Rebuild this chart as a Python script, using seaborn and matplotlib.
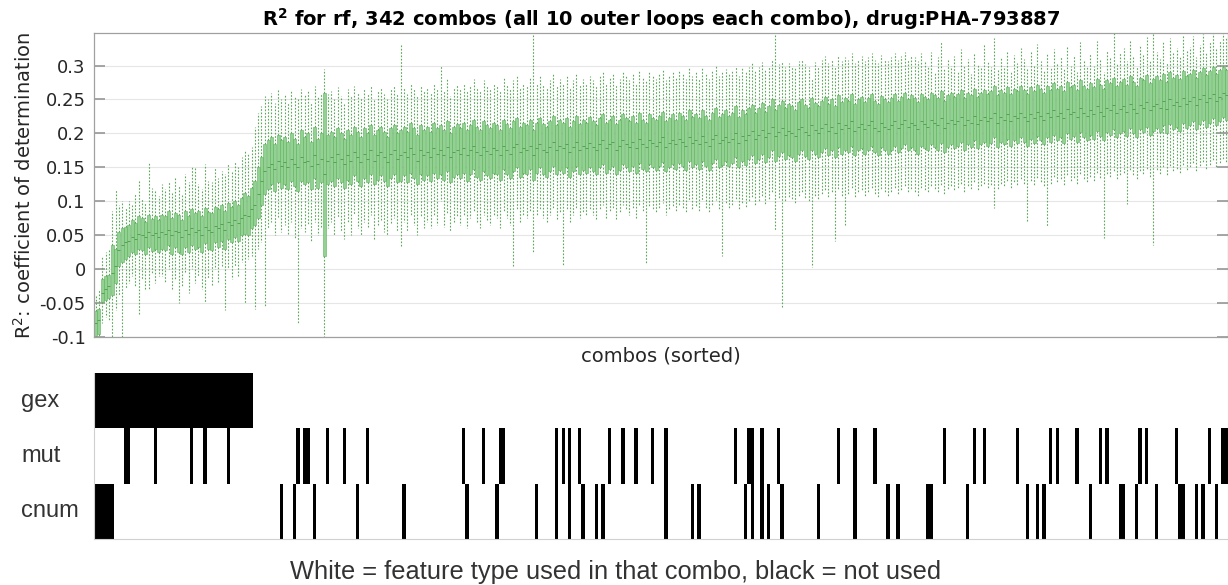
import numpy as np
import pandas as pd
import matplotlib
matplotlib.use("Agg")
import matplotlib.pyplot as plt
import seaborn as sns
from matplotlib.colors import ListedColormap

# ---------------- data (R^2 in thousandths) ----------------
med = [
-80,-75,-35,-30,-25,-5,5,28,35,40,
42,48,45,52,50,47,55,50,53,48,
55,52,58,50,56,54,48,57,52,60,
55,58,50,62,57,55,63,60,66,58,
70,65,72,68,75,80,78,88,95,110,
130,145,150,155,148,160,152,158,150,162,
155,150,165,158,160,152,168,155,162,140,
160,165,158,170,162,155,168,160,172,165,
158,170,163,175,160,168,172,165,158,170,
175,162,168,172,165,178,170,160,175,168,
172,165,178,170,175,168,180,165,172,176,
170,178,168,175,182,172,168,180,174,170,
178,175,168,182,176,170,180,185,172,178,
175,182,168,178,185,176,172,180,188,175,
182,178,185,172,180,188,176,182,178,186,
180,175,185,190,178,184,188,176,182,190,
185,180,188,178,192,184,180,190,186,182,
188,194,180,186,190,184,192,188,182,195,
186,190,184,196,188,182,192,198,186,190,
195,188,192,200,186,196,190,198,204,192,
198,205,194,200,210,196,202,208,198,204,
200,196,206,210,202,198,212,205,200,208,
214,204,210,200,216,206,212,208,218,204,
210,214,206,212,218,208,204,215,210,206,
212,218,208,214,220,210,216,212,206,218,
214,210,220,216,212,222,208,216,220,214,
218,224,212,220,216,226,214,220,224,218,
222,230,216,224,220,228,218,226,222,230,
224,218,228,222,232,226,220,230,224,234,
226,230,222,236,228,232,224,238,230,226,
234,228,240,232,226,238,234,242,230,236,
240,232,244,236,230,242,238,246,234,240,
244,238,248,236,250,242,246,240,252,244,
248,254,242,250,256,246,252,258,248,254,
260,256]

q1 = [
-98,-95,-48,-45,-42,-38,-20,5,10,15,
20,25,22,30,28,22,32,26,30,25,
30,28,35,22,32,25,22,32,25,35,
30,32,25,38,30,28,40,32,42,30,
45,40,48,42,50,52,50,60,65,75,
95,110,118,125,115,128,120,125,118,130,
122,115,130,125,128,118,135,120,128,20,
125,130,122,135,128,120,132,125,138,130,
122,135,128,140,125,132,138,130,122,135,
140,128,130,138,128,142,135,125,140,132,
138,130,142,135,140,132,145,128,136,140,
135,142,130,140,148,136,132,145,138,134,
142,140,132,148,140,134,145,150,136,142,
140,148,132,142,150,140,136,145,152,140,
146,142,150,136,145,152,140,146,142,150,
145,140,150,155,142,148,152,140,146,155,
150,145,152,142,156,148,144,155,150,146,
152,158,145,150,155,148,156,152,146,160,
150,155,148,160,152,146,156,162,150,154,
160,152,156,165,150,160,154,162,168,156,
162,170,158,165,175,160,166,172,162,168,
165,160,170,175,166,162,176,170,165,172,
178,168,175,165,180,170,176,172,182,168,
175,178,170,176,182,172,168,180,175,170,
176,182,172,178,185,175,180,176,170,182,
178,175,185,180,176,186,172,180,184,178,
182,188,176,184,180,190,178,184,188,182,
186,194,180,188,184,192,182,190,186,194,
188,182,192,186,196,190,184,194,188,198,
190,194,186,200,192,196,188,202,194,190,
198,192,204,196,190,202,198,206,194,200,
204,196,208,200,194,206,202,210,198,204,
208,202,212,200,214,206,210,204,216,208,
212,218,206,214,220,210,216,222,212,218,
224,220]

q3 = [
-62,-58,-15,-10,-8,35,30,55,60,62,
65,72,68,78,75,70,80,74,78,72,
80,78,85,75,82,80,72,85,78,88,
82,85,78,90,84,82,92,88,95,85,
98,92,100,95,105,112,108,120,130,150,
165,185,190,195,185,198,190,195,188,200,
192,185,205,195,200,188,210,192,200,260,
198,202,195,208,200,192,205,198,210,202,
195,208,200,212,198,205,210,202,195,208,
212,200,205,210,202,215,208,198,212,205,
210,202,215,208,212,205,218,200,210,214,
208,215,205,212,220,210,205,218,212,208,
215,212,205,220,214,208,218,222,210,215,
212,220,205,215,222,214,210,218,225,212,
220,215,222,210,218,225,214,220,215,224,
218,212,222,228,215,220,225,214,220,228,
222,218,225,215,230,220,216,228,222,220,
225,232,218,222,228,220,230,225,220,234,
224,228,222,235,226,220,230,238,224,228,
234,226,230,240,224,235,228,238,242,230,
238,245,232,240,250,235,242,248,238,244,
240,235,246,250,242,238,252,245,240,248,
254,244,250,240,256,246,252,248,258,244,
250,254,246,252,258,248,244,255,250,246,
252,258,248,254,260,250,256,252,246,258,
254,250,260,256,252,262,248,256,260,254,
258,264,252,260,256,266,254,260,264,258,
262,270,256,264,260,268,258,266,262,270,
264,258,268,262,272,266,260,270,264,274,
266,270,262,276,268,272,264,278,270,266,
274,268,280,272,266,278,274,282,270,276,
280,272,284,276,270,282,278,286,274,280,
284,278,288,276,290,282,286,280,292,284,
288,294,282,290,296,286,292,298,288,294,
298,294]

w_lo = [
-100,-100,-80,-70,-75,-100,-60,-40,-100,-30,
-20,-10,-25,-68,-15,-30,-30,-5,-20,-10,
-10,-20,0,-30,-15,-50,-25,-5,-35,0,
-20,-10,-30,-50,-15,-25,0,-20,5,-60,
0,-15,5,-10,10,-50,15,20,-58,30,
40,-55,60,70,50,75,55,65,50,70,
45,-80,60,55,65,40,70,50,60,-100,
60,70,50,75,55,45,68,50,80,60,
50,70,60,80,45,65,72,55,50,68,
75,55,34,70,55,80,65,50,78,60,
70,60,80,65,100,62,82,55,70,78,
65,80,60,75,85,68,60,80,72,65,
78,75,60,85,75,65,3,88,68,78,
75,85,24,78,88,75,68,80,90,72,
82,5,88,68,80,90,75,82,78,88,
80,72,88,95,75,85,90,72,82,95,
88,80,90,75,95,85,7,92,88,82,
90,98,80,88,92,85,95,90,82,100,
88,92,85,100,90,82,95,102,88,20,
98,90,95,102,88,98,92,100,105,95,
100,108,95,102,112,58,104,-56,100,106,
102,98,108,112,104,100,3,108,102,110,
115,105,112,42,118,108,64,110,120,105,
112,115,108,114,120,110,105,118,112,108,
114,120,110,116,122,112,118,114,108,120,
116,112,122,118,114,124,110,118,122,116,
120,126,114,122,118,128,116,122,126,120,
124,90,118,126,122,130,120,128,124,132,
126,70,130,124,134,128,122,62,126,136,
128,132,124,138,130,134,126,140,132,128,
136,130,142,134,46,140,136,144,132,138,
142,96,146,138,132,144,140,148,136,36,
146,140,150,138,152,144,148,142,154,146,
150,156,144,152,158,148,154,160,150,156,
162,158]

w_hi = [
-40,-30,20,25,30,85,117,95,100,90,
100,95,110,130,105,98,157,120,115,108,
125,118,130,112,135,122,110,140,128,150,
150,125,118,155,130,128,150,135,145,140,
155,145,160,150,165,175,170,180,210,230,
240,255,250,260,245,265,250,258,245,262,
255,250,265,258,262,245,270,255,260,295,
258,262,250,268,255,245,265,255,270,260,
252,265,258,270,250,262,268,258,250,265,
272,258,330,268,258,275,265,255,272,262,
268,260,275,265,300,262,280,255,268,272,
265,275,262,270,280,268,262,278,270,265,
275,270,262,282,272,265,278,285,268,275,
270,282,345,275,285,272,268,278,288,270,
280,275,285,268,278,288,272,280,275,285,
278,270,285,290,275,282,288,272,280,292,
285,278,288,275,292,282,278,290,285,280,
288,295,278,285,290,282,292,288,280,296,
285,290,282,296,288,280,292,300,285,290,
295,288,292,300,285,296,290,298,305,292,
298,305,294,300,310,350,302,305,298,304,
300,296,306,310,302,298,280,305,300,308,
314,304,310,300,316,306,312,308,318,304,
310,314,306,312,318,308,304,315,310,306,
312,318,308,314,320,310,316,312,306,318,
305,298,320,290,312,335,296,308,300,314,
292,324,300,310,288,318,302,296,330,306,
298,340,294,312,300,322,290,316,304,326,
310,296,320,300,332,306,292,318,298,324,
304,312,296,328,300,316,290,334,306,298,
318,300,336,310,290,322,312,350,304,320,
326,306,338,314,300,330,316,342,308,350,
320,310,336,304,340,318,326,312,345,322,
328,344,312,330,346,320,334,348,326,338,
348,340]

features = ["gex", "mut", "cnum"]
# combos (0-based, sorted order) in which each feature type is NOT used (black)
gex_off = list(range(0, 48))
mut_off = [9, 10, 18, 29, 33, 40, 61, 63, 64, 70, 75, 82, 111, 117, 122, 123,
           139, 141, 143, 146, 155, 159, 163, 168, 172, 193, 197, 198, 201, 206,
           224, 229, 235, 256, 265, 268, 278, 288, 290, 296, 303, 305, 315, 317,
           326, 336, 340, 341]
cnum_off = [0, 1, 2, 3, 4, 5, 56, 60, 66, 79, 93, 112, 121, 133, 139, 143, 147,
            151, 153, 172, 180, 182, 196, 198, 201, 203, 207, 218, 229, 239, 242,
            251, 252, 263, 281, 284, 286, 300, 309, 310, 314, 320, 327, 328, 332,
            334, 338]

y_ticks = [-0.1, -0.05, 0, 0.05, 0.1, 0.15, 0.2, 0.25, 0.3]
y_ticklabels = ["-0.1", "-0.05", "0", "0.05", "0.1", "0.15", "0.2", "0.25", "0.3"]

n = len(med)
combos = list(range(n))

rows = []
for k in combos:
    for v in (w_lo[k], q1[k], med[k], q3[k], w_hi[k]):
        rows.append((k, v / 1000.0))
df = pd.DataFrame(rows, columns=["combo", "r2"])

# ---------------- figure ----------------
sns.set_theme(style="white")
plt.rcParams["font.family"] = ["DejaVu Sans"]

W, H = 1228, 585
fig = plt.figure(figsize=(W / 100, H / 100), dpi=100)

left_px, right_px = 94, 1228
ax = fig.add_axes([left_px / W, (H - 337) / H, (right_px - left_px) / W, (337 - 33) / H])

sns.boxplot(data=df, x="combo", y="r2", order=combos, whis=(0, 100), width=0.9,
            color="#93d193", saturation=1, linecolor="#5cb05c", linewidth=0.4,
            whiskerprops=dict(linestyle=(0, (1.5, 1.5)), color="#5aa95a", linewidth=0.8),
            medianprops=dict(color="#4a9a4a", linewidth=0.6),
            showcaps=False, ax=ax)

ax.set_ylim(-0.1, 0.348)
ax.set_xlim(-0.5, n - 0.5)
ax.set_yticks(y_ticks)
ax.set_yticklabels(y_ticklabels, fontsize=13, color="#262626")
ax.set_xticks([])
ax.yaxis.grid(True, color="#e6e6e6", linewidth=0.8)
ax.set_axisbelow(True)
ax.tick_params(axis="y", direction="in", length=8, color="#9a9a9a", left=True, right=True, pad=6)
for s in ax.spines.values():
    s.set_color("#a0a0a0")
    s.set_linewidth(0.9)
ax.set_xlabel("combos (sorted)", fontsize=14, color="#262626")
ax.xaxis.set_label_coords(0.5, -0.03)
ax.set_ylabel("R$^2$: coefficient of determination", fontsize=14, color="#262626")
ax.yaxis.set_label_coords(-0.052, 0.5)
ax.set_title("R$^\\mathbf{2}$ for rf, 342 combos (all 10 outer loops each combo), drug:PHA-793887",
             fontsize=14, fontweight="bold", color="black", pad=5)

# ---------------- heatmap of feature usage ----------------
mat = np.ones((len(features), n))
for r, offs in enumerate([gex_off, mut_off, cnum_off]):
    mat[r, offs] = 0

ax2 = fig.add_axes([left_px / W, (H - 539) / H, (right_px - left_px) / W, (539 - 373) / H])
sns.heatmap(mat, cmap=ListedColormap(["black", "white"]), vmin=0, vmax=1, cbar=False,
            xticklabels=False, yticklabels=features, ax=ax2)
ax2.set_yticklabels(features, rotation=0, fontsize=17, color="#333333",
                    fontfamily=["Liberation Sans", "DejaVu Sans"])
for lbl in ax2.get_yticklabels():
    lbl.set_ha("left")
ax2.tick_params(axis="y", direction="in", length=0, pad=52.5)
ax2.tick_params(axis="x", length=0)
for side in ["left", "bottom"]:
    ax2.spines[side].set_visible(True)
    ax2.spines[side].set_color("#d0d0d0")
    ax2.spines[side].set_linewidth(0.8)

fig.text(616 / W, 1 - 572 / H, "White = feature type used in that combo, black = not used",
         ha="center", va="center", fontsize=18.3, color="#333333",
         fontfamily=["Liberation Sans", "DejaVu Sans"])

fig.savefig("out.png", dpi=100)
